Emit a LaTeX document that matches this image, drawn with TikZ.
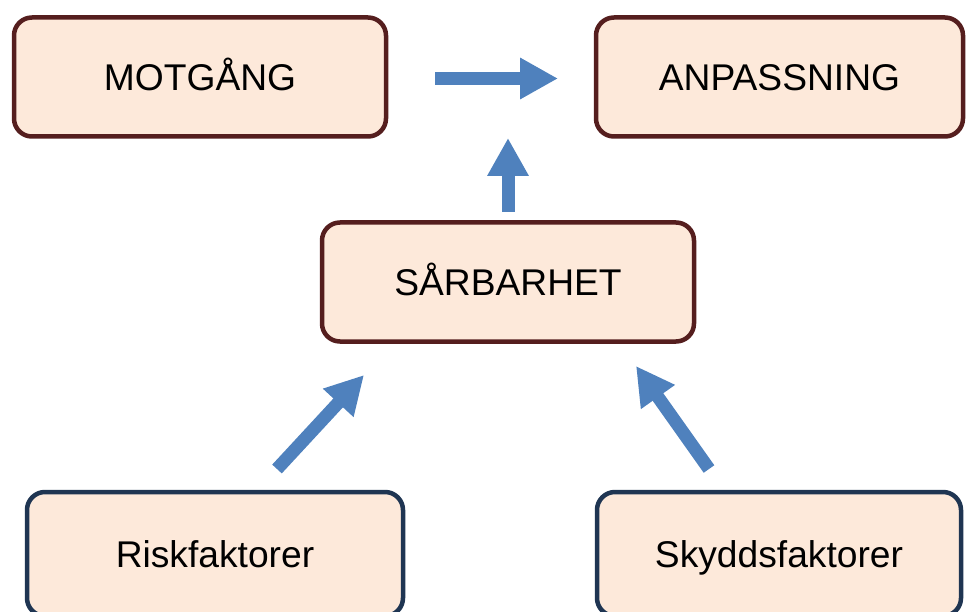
\documentclass[tikz,border=0pt]{standalone}
\usepackage{fontspec}
\setmainfont{Liberation Sans}
\usetikzlibrary{arrows.meta}
\definecolor{boxfill}{HTML}{FDE9DA}
\definecolor{maroon}{HTML}{551E1E}
\definecolor{navy}{HTML}{1F3552}
\definecolor{arrowblue}{HTML}{4F81BD}
\tikzset{
  box/.style={draw, line width=4.5pt, fill=boxfill, rounded corners=18pt,
    minimum height=119pt, inner sep=0pt, text height=26.6pt, text depth=0pt,
    font=\fontsize{37.2}{40}\selectfont, text=black},
  topbox/.style={box, draw=maroon},
  botbox/.style={box, draw=navy, minimum height=124pt},
  bigarrow/.style={draw=arrowblue, line width=13pt,
    -{Triangle[length=38pt,width=39pt,fill=arrowblue]}},
}
\begin{document}
\begin{tikzpicture}[x=1pt,y=-1pt]
\useasboundingbox (0,0) rectangle (966,612);
\node[topbox, minimum width=372pt] (mot) at (200,77) {MOTGÅNG};
\node[topbox, minimum width=367pt] (anp) at (779.5,77) {ANPASSNING};
\node[topbox, minimum width=372pt] (sar) at (508,282) {SÅRBARHET};
\node[botbox, minimum width=376pt] (risk) at (215,554) {Riskfaktorer};
\node[botbox, minimum width=364pt] (skydd) at (779,554) {Skyddsfaktorer};
\coordinate (a1s) at (435,78.5);
\coordinate (a1e) at (558,78.5);
\coordinate (a2s) at (508,212);
\coordinate (a2e) at (508,138);
\coordinate (a3s) at (277,469);
\coordinate (a3e) at (364,375);
\coordinate (a4s) at (709,469);
\coordinate (a4e) at (636,366);
\draw[bigarrow] (a1s) -- (a1e);
\draw[bigarrow] (a2s) -- (a2e);
\draw[bigarrow] (a3s) -- (a3e);
\draw[bigarrow] (a4s) -- (a4e);
\end{tikzpicture}
\end{document}
